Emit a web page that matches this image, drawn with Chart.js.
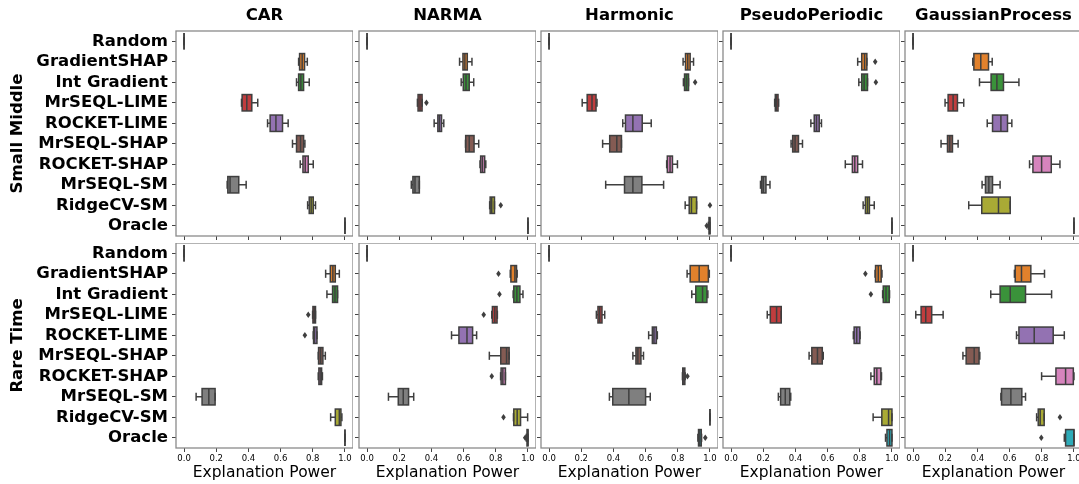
<!DOCTYPE html>
<html>
<head>
<meta charset="utf-8">
<script src="https://cdn.jsdelivr.net/npm/chart.js@4.4.0/dist/chart.umd.min.js"></script>
<style>
  html, body { margin: 0; padding: 0; background: #fff; }
  #figure { position: relative; width: 1079px; height: 484px; overflow: hidden; }
  #figure canvas { position: absolute; }
</style>
</head>
<body>
<div id="figure"></div>
<script>
const methods = ["Random", "GradientSHAP", "Int Gradient", "MrSEQL-LIME", "ROCKET-LIME",
  "MrSEQL-SHAP", "ROCKET-SHAP", "MrSEQL-SM", "RidgeCV-SM", "Oracle"];
const datasetNames = ["CAR", "NARMA", "Harmonic", "PseudoPeriodic", "GaussianProcess"];
const settingNames = ["Small Middle", "Rare Time"];
const xTicks = [0, 0.2, 0.4, 0.6, 0.8, 1.0];

// each row: [lower whisker, q1, median, q3, upper whisker]
const smallMiddleCAR = [
  [0, 0, 0, 0, 0], [0.712, 0.718, 0.734, 0.749, 0.766], [0.699, 0.712, 0.726, 0.743, 0.778],
  [0.357, 0.361, 0.39, 0.421, 0.458], [0.519, 0.535, 0.571, 0.612, 0.647], [0.674, 0.699, 0.724, 0.743, 0.751],
  [0.722, 0.739, 0.753, 0.772, 0.803], [0.268, 0.272, 0.286, 0.34, 0.386], [0.768, 0.778, 0.79, 0.803, 0.817],
  [1, 1, 1, 1, 1],
];
const smallMiddleNARMA = [
  [0, 0, 0, 0, 0], [0.575, 0.596, 0.608, 0.623, 0.652], [0.585, 0.598, 0.615, 0.635, 0.663],
  [0.313, 0.317, 0.329, 0.342, 0.342], [0.417, 0.44, 0.45, 0.463, 0.477], [0.612, 0.613, 0.635, 0.665, 0.694],
  [0.702, 0.706, 0.717, 0.731, 0.738], [0.275, 0.285, 0.298, 0.325, 0.325], [0.762, 0.765, 0.775, 0.792, 0.792],
  [1, 1, 1, 1, 1],
];
const smallMiddleHarmonic = [
  [0, 0, 0, 0, 0], [0.833, 0.848, 0.862, 0.877, 0.898], [0.835, 0.842, 0.854, 0.867, 0.867],
  [0.206, 0.237, 0.267, 0.292, 0.298], [0.458, 0.475, 0.521, 0.579, 0.635], [0.333, 0.377, 0.421, 0.45, 0.45],
  [0.731, 0.735, 0.752, 0.767, 0.798], [0.352, 0.469, 0.521, 0.577, 0.712], [0.846, 0.871, 0.885, 0.917, 0.917],
  [0.99, 0.994, 1, 1, 1],
];
const smallMiddlePseudo = [
  [0, 0, 0, 0, 0], [0.787, 0.812, 0.83, 0.844, 0.844], [0.794, 0.812, 0.827, 0.848, 0.848],
  [0.271, 0.275, 0.281, 0.292, 0.296], [0.496, 0.517, 0.531, 0.548, 0.562], [0.373, 0.383, 0.398, 0.419, 0.444],
  [0.71, 0.754, 0.769, 0.787, 0.817], [0.183, 0.19, 0.2, 0.217, 0.242], [0.821, 0.835, 0.848, 0.86, 0.89],
  [1, 1, 1, 1, 1],
];
const smallMiddleGP = [
  [0, 0, 0, 0, 0], [0.371, 0.378, 0.421, 0.469, 0.492], [0.413, 0.485, 0.521, 0.562, 0.658],
  [0.199, 0.218, 0.249, 0.276, 0.315], [0.461, 0.494, 0.546, 0.587, 0.614], [0.174, 0.214, 0.228, 0.245, 0.28],
  [0.724, 0.745, 0.799, 0.859, 0.913], [0.429, 0.45, 0.471, 0.494, 0.541], [0.346, 0.427, 0.531, 0.604, 0.604],
  [1, 1, 1, 1, 1],
];
const rareTimeCAR = [
  [0, 0, 0, 0, 0], [0.88, 0.909, 0.925, 0.94, 0.965], [0.888, 0.923, 0.938, 0.954, 0.954],
  [0.799, 0.801, 0.809, 0.817, 0.817], [0.803, 0.805, 0.811, 0.826, 0.826], [0.834, 0.836, 0.849, 0.863, 0.878],
  [0.834, 0.838, 0.846, 0.855, 0.86], [0.075, 0.112, 0.154, 0.193, 0.193], [0.911, 0.94, 0.965, 0.975, 0.981],
  [1, 1, 1, 1, 1],
];
const rareTimeNARMA = [
  [0, 0, 0, 0, 0], [0.89, 0.894, 0.919, 0.929, 0.933], [0.908, 0.912, 0.931, 0.95, 0.969],
  [0.775, 0.779, 0.794, 0.808, 0.81], [0.525, 0.571, 0.621, 0.656, 0.681], [0.76, 0.831, 0.867, 0.883, 0.883],
  [0.83, 0.833, 0.844, 0.86, 0.86], [0.133, 0.194, 0.225, 0.258, 0.29], [0.91, 0.912, 0.933, 0.954, 0.998],
  [0.99, 0.994, 1, 1, 1],
];
const rareTimeHarmonic = [
  [0, 0, 0, 0, 0], [0.858, 0.877, 0.933, 0.99, 0.996], [0.887, 0.912, 0.954, 0.981, 0.987],
  [0.294, 0.304, 0.315, 0.329, 0.346], [0.619, 0.642, 0.652, 0.667, 0.673], [0.521, 0.54, 0.552, 0.571, 0.587],
  [0.829, 0.831, 0.838, 0.844, 0.846], [0.375, 0.396, 0.496, 0.6, 0.629], [1, 1, 1, 1, 1],
  [0.925, 0.929, 0.937, 0.946, 0.948],
];
const rareTimePseudo = [
  [0, 0, 0, 0, 0], [0.895, 0.898, 0.915, 0.933, 0.938], [0.942, 0.946, 0.963, 0.983, 0.985],
  [0.225, 0.244, 0.283, 0.312, 0.312], [0.76, 0.765, 0.781, 0.8, 0.802], [0.485, 0.502, 0.537, 0.567, 0.573],
  [0.869, 0.89, 0.906, 0.931, 0.935], [0.294, 0.308, 0.337, 0.365, 0.371], [0.883, 0.937, 0.979, 1, 1],
  [0.96, 0.969, 0.985, 1, 1],
];
const rareTimeGP = [
  [0, 0, 0, 0, 0], [0.63, 0.635, 0.674, 0.732, 0.817], [0.483, 0.541, 0.604, 0.699, 0.861],
  [0.017, 0.05, 0.079, 0.116, 0.187], [0.643, 0.658, 0.753, 0.871, 0.94], [0.31, 0.33, 0.38, 0.41, 0.415],
  [0.799, 0.888, 0.948, 0.996, 1], [0.546, 0.55, 0.608, 0.676, 0.699], [0.768, 0.778, 0.79, 0.815, 0.815],
  [0.94, 0.948, 1, 1, 1],
];

// outliers: [method index, value]
const smallMiddleCARFliers = [];
const smallMiddleNARMAFliers = [[3, 0.369], [8, 0.831]];
const smallMiddleHarmonicFliers = [[2, 0.908], [8, 1.0], [9, 0.98]];
const smallMiddlePseudoFliers = [[1, 0.896], [2, 0.9]];
const smallMiddleGPFliers = [];
const rareTimeCARFliers = [[3, 0.772], [4, 0.751]];
const rareTimeNARMAFliers = [[1, 0.817], [2, 0.823], [3, 0.725], [6, 0.775], [8, 0.848], [9, 0.983]];
const rareTimeHarmonicFliers = [[6, 0.86], [9, 0.971]];
const rareTimePseudoFliers = [[1, 0.835], [2, 0.869]];
const rareTimeGPFliers = [[8, 0.913], [9, 0.797]];

const palette = ["#3274a1", "#e1812c", "#3a923a", "#c03d3e", "#9372b2",
  "#845b53", "#d684bd", "#7f7f7f", "#a9aa35", "#2eabb8"];
const edge = "#3f3f3f";

const grid = [
  [[smallMiddleCAR, smallMiddleCARFliers], [smallMiddleNARMA, smallMiddleNARMAFliers],
   [smallMiddleHarmonic, smallMiddleHarmonicFliers], [smallMiddlePseudo, smallMiddlePseudoFliers],
   [smallMiddleGP, smallMiddleGPFliers]],
  [[rareTimeCAR, rareTimeCARFliers], [rareTimeNARMA, rareTimeNARMAFliers],
   [rareTimeHarmonic, rareTimeHarmonicFliers], [rareTimePseudo, rareTimePseudoFliers],
   [rareTimeGP, rareTimeGPFliers]],
];

Chart.defaults.font.family = "'DejaVu Sans', sans-serif";

// box outlines, whiskers, caps, medians and fliers over the filled bars
const boxDetails = {
  id: "boxDetails",
  afterDatasetsDraw(chart) {
    const { ctx, scales: { x, y } } = chart;
    const ds = chart.data.datasets[0];
    const bars = chart.getDatasetMeta(0).data;
    const line = (x1, y1, x2, y2) => { ctx.beginPath(); ctx.moveTo(x1, y1); ctx.lineTo(x2, y2); ctx.stroke(); };
    ctx.save();
    ctx.strokeStyle = edge;
    ctx.fillStyle = edge;
    ctx.lineWidth = 1.5;
    ds.stats.forEach((s, i) => {
      const cy = y.getPixelForValue(i);
      const half = bars[i].height / 2;
      const [lo, q1, med, q3, hi] = s.map(v => x.getPixelForValue(v));
      ctx.strokeRect(q1, cy - half, q3 - q1, 2 * half);
      line(lo, cy, q1, cy);
      line(q3, cy, hi, cy);
      line(lo, cy - half / 2, lo, cy + half / 2);
      line(hi, cy - half / 2, hi, cy + half / 2);
      line(med, cy - half, med, cy + half);
    });
    ds.fliers.forEach(([i, v]) => {
      const px = x.getPixelForValue(v), py = y.getPixelForValue(i);
      ctx.beginPath();
      ctx.moveTo(px, py - 3.2);
      ctx.lineTo(px + 2.3, py);
      ctx.lineTo(px, py + 3.2);
      ctx.lineTo(px - 2.3, py);
      ctx.closePath();
      ctx.fill();
    });
    ctx.restore();
  },
};

const frame = {
  id: "frame",
  afterDraw(chart) {
    const { ctx, chartArea: a } = chart;
    ctx.save();
    ctx.strokeStyle = "#8a8a8a";
    ctx.lineWidth = 1.3;
    ctx.strokeRect(a.left, a.top, a.right - a.left, a.bottom - a.top);
    ctx.restore();
  },
};

const colLeft = [176, 359, 541, 723, 905];
const rowTop = [31, 243];
const plotW = 177, plotH = 205;

function drawPanel(row, col) {
  const [stats, fliers] = grid[row][col];
  const firstCol = col === 0;
  const yW = firstCol ? colLeft[0] : 12;
  const titleH = row === 0 ? rowTop[0] : 0;
  const xH = row === 0 ? 6 : 484 - rowTop[1] - plotH;

  const canvas = document.createElement("canvas");
  canvas.width = yW + plotW;
  canvas.height = titleH + plotH + xH;
  canvas.style.left = (colLeft[col] - yW) + "px";
  canvas.style.top = (rowTop[row] - titleH) + "px";
  document.getElementById("figure").appendChild(canvas);

  const scales = {
    x: {
      type: "linear",
      min: -0.05,
      max: 1.05,
      afterBuildTicks: s => { s.ticks = xTicks.map(v => ({ value: v })); },
      ticks: {
        display: row === 1,
        callback: v => v.toFixed(1),
        color: "#000",
        font: { size: 8.5 },
        padding: 2,
        maxRotation: 0,
        autoSkip: false,
      },
      grid: { drawOnChartArea: false, drawTicks: true, tickLength: 4, color: "#444" },
      border: { display: false },
      title: {
        display: row === 1,
        text: "Explanation Power",
        color: "#000",
        font: { size: 15.5 },
        padding: { top: 0, bottom: 2 },
      },
      afterFit: s => { s.height = xH; s.paddingLeft = 0; s.paddingRight = 0; },
    },
    y: {
      type: "category",
      offset: true,
      ticks: {
        display: firstCol,
        color: "#000",
        font: { size: 16.5, weight: "bold" },
        padding: 4,
        autoSkip: false,
      },
      grid: { offset: false, drawOnChartArea: false, drawTicks: true, tickLength: 4, color: "#444" },
      border: { display: false },
      title: {
        display: firstCol,
        text: settingNames[row],
        color: "#000",
        font: { size: 16.5, weight: "bold", lineHeight: 1.2 },
        padding: { top: 7.6, bottom: 0 },
      },
      afterFit: s => { s.width = yW; s.paddingTop = 0; s.paddingBottom = 0; },
    },
  };

  // column title sits on an empty top axis so it centres over the plot area
  if (row === 0) {
    scales.top = {
      type: "linear",
      position: "top",
      axis: "x",
      min: -0.05,
      max: 1.05,
      ticks: { display: false },
      grid: { display: false, drawTicks: false },
      border: { display: false },
      title: {
        display: true,
        text: datasetNames[col],
        color: "#000",
        font: { size: 16.5, weight: "bold", lineHeight: 1.2 },
        padding: { top: 5.4, bottom: 0 },
      },
      afterFit: s => { s.height = titleH; s.paddingLeft = 0; s.paddingRight = 0; },
    };
  }

  new Chart(canvas.getContext("2d"), {
    type: "bar",
    data: {
      labels: methods,
      datasets: [{
        data: stats.map(s => [s[1], s[3]]),
        stats: stats,
        fliers: fliers,
        backgroundColor: palette,
        borderWidth: 0,
        barPercentage: 0.8,
        categoryPercentage: 1.0,
      }],
    },
    options: {
      indexAxis: "y",
      responsive: false,
      animation: false,
      layout: { padding: 0 },
      plugins: {
        legend: { display: false },
        tooltip: { enabled: false },
      },
      scales: scales,
    },
    plugins: [boxDetails, frame],
  });
}

for (let r = 0; r < 2; r++) {
  for (let c = 0; c < 5; c++) drawPanel(r, c);
}
</script>
</body>
</html>
